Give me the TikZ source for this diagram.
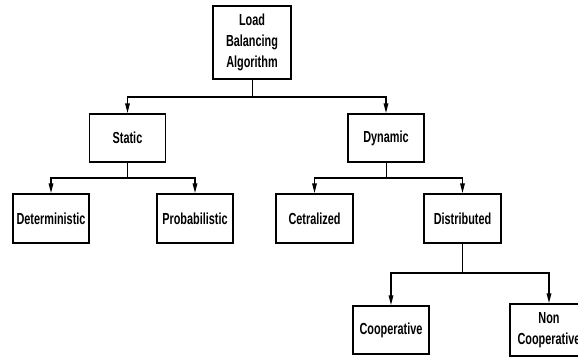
\documentclass[tikz,border=0pt]{standalone}
\usepackage{fontspec}
\setmainfont{Liberation Sans}[FakeStretch=0.68]
\usetikzlibrary{arrows.meta}
\begin{document}
\begin{tikzpicture}[x=1pt,y=-1pt,
  box/.style={draw=black,line width=1.4pt,fill=white,minimum width=76pt,minimum height=48pt,inner sep=0pt,align=center,font=\fontsize{16}{21}\selectfont\bfseries},
  stem/.style={draw=black,line width=1pt},
  arr/.style={draw=black,line width=1.6pt,-{Triangle[length=10pt,width=4.5pt]}}]
\useasboundingbox (0,0) rectangle (578,356);
\fill[white] (0,0) rectangle (578,356);
\node[box,minimum width=78pt,minimum height=73pt] (top) at (252,42.5) {Load\\Balancing\\Algorithm};
\node[box] (static) at (127.5,138) {Static};
\node[box] (dynamic) at (386,138) {Dynamic};
\node[box,minimum height=49pt] (det) at (51,218.5) {Deterministic};
\node[box,minimum height=49pt] (prob) at (195,218.5) {Probabilistic};
\node[box,minimum width=77pt,minimum height=49pt] (cet) at (314.5,218.5) {Cetralized};
\node[box,minimum width=77pt,minimum height=49pt] (dist) at (462.5,218.5) {Distributed};
\node[box] (coop) at (391,330) {Cooperative};
\node[box,minimum height=52pt,minimum width=78pt] (noncoop) at (549,330) {Non\\Cooperative};
\coordinate (j1) at (252,97);
\coordinate (j2) at (127.5,178);
\coordinate (j3) at (386,178);
\coordinate (j4) at (462.5,273);
\draw[stem] (top.south) -- (j1);
\draw[arr] (j1) -| (static.north);
\draw[arr] (j1) -| (dynamic.north);
\draw[stem] (static.south) -- (j2);
\draw[arr] (j2) -| (det.north);
\draw[arr] (j2) -| (prob.north);
\draw[stem] (dynamic.south) -- (j3);
\draw[arr] (j3) -| (cet.north);
\draw[arr] (j3) -| (dist.north);
\draw[stem] (dist.south) -- (j4);
\draw[arr] (j4) -| (coop.north);
\draw[arr] (j4) -| (noncoop.north);
\end{tikzpicture}
\end{document}
